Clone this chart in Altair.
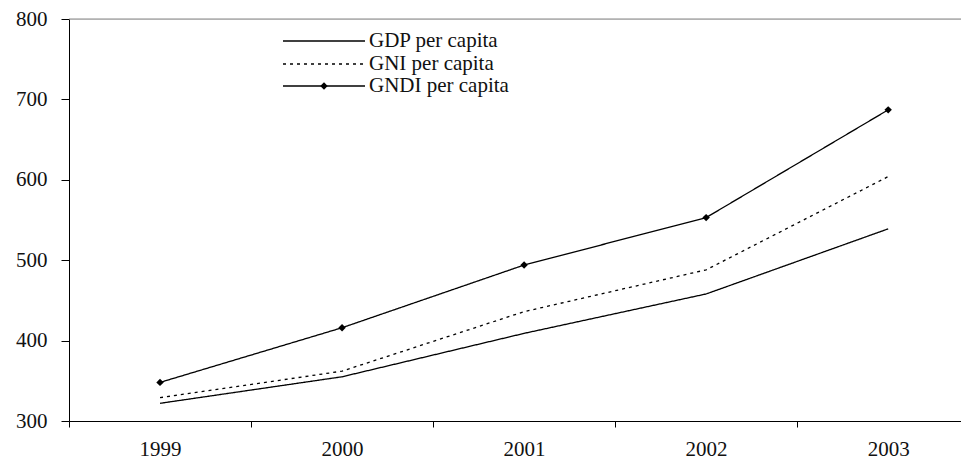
import altair as alt
import pandas as pd

years = [1999, 2000, 2001, 2002, 2003]
series_names = ["GDP per capita", "GNI per capita", "GNDI per capita"]
gdp = [322, 355, 409, 458, 539]
gni = [329, 362, 436, 488, 604]
gndi = [348, 416, 494, 553, 687]
y_ticks = [300, 400, 500, 600, 700, 800]
x_tick_positions = [1998.5, 1999.5, 2000.5, 2001.5, 2002.5]

rows = []
for name, vals in zip(series_names, [gdp, gni, gndi]):
    for yr, v in zip(years, vals):
        rows.append({"year": yr, "value": v, "series": name})
df = pd.DataFrame(rows)

FONT = "'Liberation Serif', 'Times New Roman', 'DejaVu Serif', serif"
W, H = 892, 402
FS = 21

x = alt.X(
    "year:Q",
    scale=alt.Scale(domain=[1998.5, 2003.4], nice=False, zero=False),
    axis=alt.Axis(
        values=x_tick_positions,
        labelExpr="format(datum.value + 0.5, 'd')",
        labelOffset=91,
        tickSize=6,
        labelPadding=11,
        grid=False,
        title=None,
        domainColor="black",
        tickColor="black",
        labelColor="#111",
        labelFontSize=FS,
        labelFont=FONT,
        labelOverlap=False,
        labelBound=False,
        labelFlush=False,
    ),
)
y = alt.Y(
    "value:Q",
    scale=alt.Scale(domain=[300, 800], nice=False, zero=False),
    axis=alt.Axis(
        values=y_ticks,
        tickSize=8,
        labelPadding=14,
        grid=False,
        title=None,
        domainColor="black",
        tickColor="black",
        labelColor="#111",
        labelFontSize=FS,
        labelFont=FONT,
        format="d",
    ),
)

dashes = [[1, 0], [3, 4], [1, 0]]

lines = alt.Chart(df).mark_line(color="black", strokeWidth=1.3).encode(
    x=x,
    y=y,
    strokeDash=alt.StrokeDash(
        "series:N", scale=alt.Scale(domain=series_names, range=dashes), legend=None
    ),
    detail="series:N",
)

points = (
    alt.Chart(df)
    .transform_filter(alt.datum.series == series_names[2])
    .mark_point(shape="diamond", filled=True, color="black", size=55, opacity=1)
    .encode(x=x, y=y)
)

top_border = (
    alt.Chart(pd.DataFrame({"k": [0]}))
    .mark_rule(color="#888", strokeWidth=1.2)
    .encode(x=alt.value(0), x2=alt.value(W), y=alt.value(0))
)

legend_y = [22, 45, 67]
legend_layers = []
for i, name in enumerate(series_names):
    ldf = pd.DataFrame({"series": [name]})
    rule_kwargs = dict(color="black", strokeWidth=1.3)
    if i == 1:
        rule_kwargs["strokeDash"] = [3, 4]
    legend_layers.append(
        alt.Chart(ldf)
        .mark_rule(**rule_kwargs)
        .encode(x=alt.value(214), x2=alt.value(296), y=alt.value(legend_y[i]))
    )
    legend_layers.append(
        alt.Chart(ldf)
        .mark_text(align="left", baseline="middle", font=FONT, fontSize=FS, color="#111")
        .encode(x=alt.value(300), y=alt.value(legend_y[i]), text="series:N")
    )
    if i == 2:
        legend_layers.append(
            alt.Chart(ldf)
            .mark_point(shape="diamond", filled=True, color="black", size=55, opacity=1)
            .encode(x=alt.value(255), y=alt.value(legend_y[i]))
        )

chart = (
    alt.layer(top_border, lines, points, *legend_layers)
    .properties(
        width=W,
        height=H,
        autosize=alt.AutoSizeParams(type="none"),
        padding={"left": 61, "top": 11, "right": 0, "bottom": 45},
    )
    .configure_view(stroke=None)
    .configure(background="white")
)

chart.save("out.html", embed_options={"renderer": "svg", "actions": False})
